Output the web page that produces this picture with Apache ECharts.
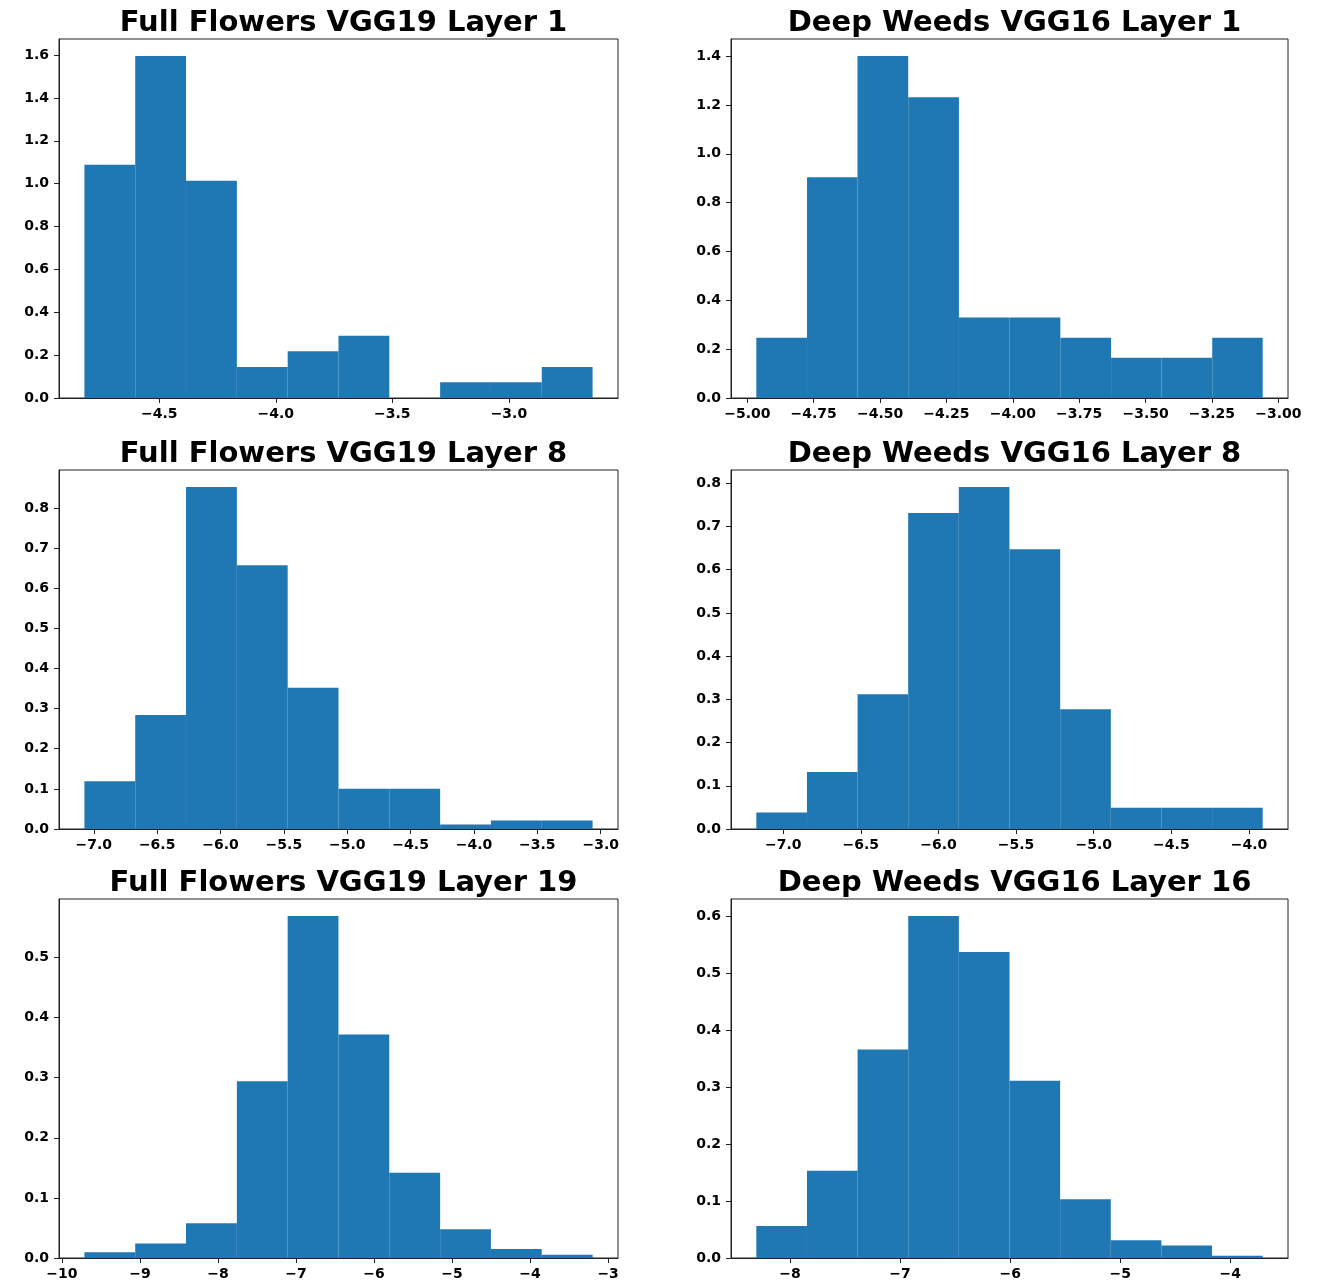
<!DOCTYPE html>
<html>
<head>
<meta charset="utf-8">
<title>VGG layer histograms</title>
<script src="https://cdn.jsdelivr.net/npm/echarts@6/dist/echarts.min.js"></script>
<style>
  html, body { margin: 0; padding: 0; background: #fff; }
  #chart { width: 1328px; height: 1284px; }
</style>
</head>
<body>
<div id="chart"></div>
<script>
// ---------------------------------------------------------------------------
// Data – bin edges / densities, one set per panel
// ---------------------------------------------------------------------------

const titles = [
  'Full Flowers VGG19 Layer 1', 'Deep Weeds VGG16 Layer 1',
  'Full Flowers VGG19 Layer 8', 'Deep Weeds VGG16 Layer 8',
  'Full Flowers VGG19 Layer 19', 'Deep Weeds VGG16 Layer 16',
]

const ffL1Edges = [-4.821, -4.603, -4.385, -4.167, -3.949, -3.731, -3.513, -3.295, -3.077, -2.859, -2.641]
const ffL1Heights = [1.088, 1.595, 1.013, 0.145, 0.218, 0.290, 0, 0.073, 0.073, 0.145]
const ffL1XTicks = [-4.5, -4.0, -3.5, -3.0]
const ffL1YTicks = [0, 0.2, 0.4, 0.6, 0.8, 1.0, 1.2, 1.4, 1.6]

const dwL1Edges = [-4.966, -4.775, -4.585, -4.394, -4.203, -4.012, -3.821, -3.630, -3.440, -3.249, -3.059]
const dwL1Heights = [0.247, 0.904, 1.400, 1.231, 0.330, 0.330, 0.247, 0.165, 0.165, 0.247]
const dwL1XTicks = [-5.0, -4.75, -4.5, -4.25, -4.0, -3.75, -3.5, -3.25, -3.0]
const dwL1YTicks = [0, 0.2, 0.4, 0.6, 0.8, 1.0, 1.2, 1.4]

const ffL8Edges = [-7.074, -6.673, -6.272, -5.871, -5.470, -5.069, -4.668, -4.267, -3.866, -3.465, -3.064]
const ffL8Heights = [0.119, 0.284, 0.852, 0.657, 0.352, 0.100, 0.100, 0.011, 0.021, 0.021]
const ffL8XTicks = [-7.0, -6.5, -6.0, -5.5, -5.0, -4.5, -4.0, -3.5, -3.0]
const ffL8YTicks = [0, 0.1, 0.2, 0.3, 0.4, 0.5, 0.6, 0.7, 0.8]

const dwL8Edges = [-7.173, -6.847, -6.521, -6.195, -5.869, -5.543, -5.216, -4.890, -4.564, -4.238, -3.912]
const dwL8Heights = [0.038, 0.132, 0.312, 0.731, 0.791, 0.647, 0.277, 0.049, 0.049, 0.049]
const dwL8XTicks = [-7.0, -6.5, -6.0, -5.5, -5.0, -4.5, -4.0]
const dwL8YTicks = [0, 0.1, 0.2, 0.3, 0.4, 0.5, 0.6, 0.7, 0.8]

const ffL19Edges = [-9.712, -9.061, -8.410, -7.758, -7.107, -6.456, -5.805, -5.153, -4.502, -3.851, -3.199]
const ffL19Heights = [0.0094, 0.024, 0.058, 0.294, 0.569, 0.372, 0.142, 0.048, 0.015, 0.0056]
const ffL19XTicks = [-10, -9, -8, -7, -6, -5, -4, -3]
const ffL19YTicks = [0, 0.1, 0.2, 0.3, 0.4, 0.5]

const dwL16Edges = [-8.306, -7.846, -7.386, -6.926, -6.466, -6.006, -5.546, -5.086, -4.626, -4.166, -3.706]
const dwL16Heights = [0.056, 0.153, 0.366, 0.600, 0.537, 0.311, 0.103, 0.031, 0.022, 0.004]
const dwL16XTicks = [-8, -7, -6, -5, -4]
const dwL16YTicks = [0, 0.1, 0.2, 0.3, 0.4, 0.5, 0.6]

// ---------------------------------------------------------------------------
// Layout
// ---------------------------------------------------------------------------

const BAR_COLOR = '#1f77b4'
const FONT = '"DejaVu Sans", sans-serif'
const TICK_FONT_SIZE = 14
const COL_LEFT = [59, 731]
const COL_WIDTH = [559, 557]
const ROW_TOP = [39, 470, 899]
const ROW_HEIGHT = 359

const panels = [
  { edges: ffL1Edges, heights: ffL1Heights, xTicks: ffL1XTicks, yTicks: ffL1YTicks, xDec: 1 },
  { edges: dwL1Edges, heights: dwL1Heights, xTicks: dwL1XTicks, yTicks: dwL1YTicks, xDec: 2 },
  { edges: ffL8Edges, heights: ffL8Heights, xTicks: ffL8XTicks, yTicks: ffL8YTicks, xDec: 1 },
  { edges: dwL8Edges, heights: dwL8Heights, xTicks: dwL8XTicks, yTicks: dwL8YTicks, xDec: 1 },
  { edges: ffL19Edges, heights: ffL19Heights, xTicks: ffL19XTicks, yTicks: ffL19YTicks, xDec: 0 },
  { edges: dwL16Edges, heights: dwL16Heights, xTicks: dwL16XTicks, yTicks: dwL16YTicks, xDec: 0 },
]

// matplotlib style number: unicode minus
function fmt(v, dec) {
  const s = Math.abs(v).toFixed(dec)
  return v < 0 ? '\u2212' + s : s
}

const grid = [], xAxis = [], yAxis = [], series = [], title = []

panels.forEach((p, i) => {
  const col = i % 2
  const row = Math.floor(i / 2)
  const left = COL_LEFT[col]
  const top = ROW_TOP[row]
  const width = COL_WIDTH[col]

  // 5% autoscale margins like matplotlib
  const lo = p.edges[0]
  const hi = p.edges[p.edges.length - 1]
  const pad = (hi - lo) * 0.05
  const yMax = Math.max(...p.heights) * 1.05

  grid.push({
    left, top, width, height: ROW_HEIGHT,
    show: true, borderColor: '#222', borderWidth: 1,
    backgroundColor: 'transparent', containLabel: false,
  })

  title.push({
    text: titles[i],
    left: left + width / 2,
    top: top - 35,
    textAlign: 'center',
    textStyle: { fontFamily: FONT, fontWeight: 'bold', fontSize: 29, color: '#000' },
  })

  xAxis.push({
    type: 'value', gridIndex: i,
    min: lo - pad, max: hi + pad,
    splitLine: { show: false },
    axisLine: { show: true, onZero: false, lineStyle: { color: '#222', width: 1 } },
    axisTick: { show: true, length: 5, customValues: p.xTicks, lineStyle: { color: '#222' } },
    axisLabel: {
      customValues: p.xTicks, margin: 9, color: '#000',
      fontFamily: FONT, fontWeight: 'bold', fontSize: TICK_FONT_SIZE,
      formatter: (v) => fmt(v, p.xDec),
    },
  })

  yAxis.push({
    type: 'value', gridIndex: i,
    min: 0, max: yMax,
    splitLine: { show: false },
    axisLine: { show: true, lineStyle: { color: '#222', width: 1 } },
    axisTick: { show: true, length: 5, customValues: p.yTicks, lineStyle: { color: '#222' } },
    axisLabel: {
      customValues: p.yTicks, margin: 10, color: '#000',
      fontFamily: FONT, fontWeight: 'bold', fontSize: TICK_FONT_SIZE,
      formatter: (v) => fmt(v, 1),
    },
  })

  series.push({
    type: 'custom',
    xAxisIndex: i, yAxisIndex: i,
    clip: true,
    data: p.heights.map((h, k) => [p.edges[k], p.edges[k + 1], h]),
    renderItem: (params, api) => {
      const a = api.coord([api.value(0), api.value(2)])
      const b = api.coord([api.value(1), 0])
      return {
        type: 'rect',
        shape: { x: a[0], y: a[1], width: b[0] - a[0], height: b[1] - a[1] },
        style: { fill: BAR_COLOR },
      }
    },
  })
})

const chart = echarts.init(document.getElementById('chart'), null, { renderer: 'canvas' })
chart.setOption({
  animation: false,
  backgroundColor: '#fff',
  title, grid, xAxis, yAxis, series,
})
</script>
</body>
</html>
